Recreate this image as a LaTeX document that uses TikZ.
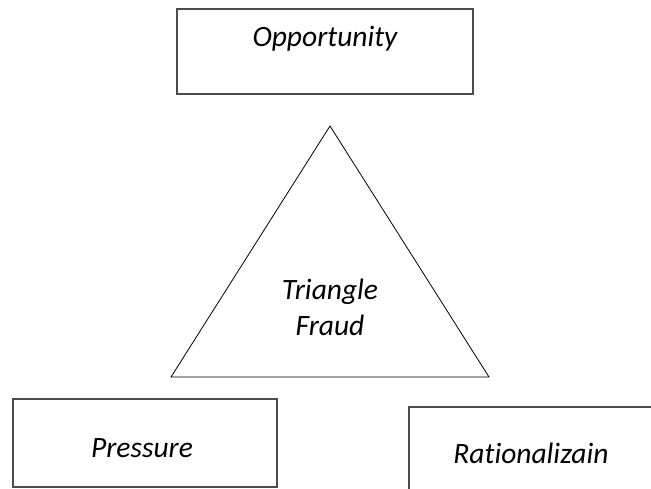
\documentclass[tikz,border=0pt]{standalone}
\usepackage{fontspec}
\setmainfont{Carlito}[Ligatures=NoCommon]
\begin{document}
\begin{tikzpicture}[x=1pt,y=-1pt,
  box/.style={draw=black!70, line width=1.1pt, inner sep=0pt},
  lbl/.style={font=\fontsize{29.5}{35}\selectfont\itshape, inner sep=0pt, anchor=base},
  tri/.style={draw=black, line width=0.8pt}]
\useasboundingbox (0,0) rectangle (651,489);
\clip (0,0) rectangle (651,489);
% boxes
\node[box, minimum width=296pt, minimum height=85pt] (opp) at (325,51.5) {};
\node[box, minimum width=264pt, minimum height=88pt] (pre) at (145,443) {};
\node[box, minimum width=260pt, minimum height=100pt] (rat) at (539,457) {};
% labels
\node[lbl] (opptext) at (325,47) {Opportunity};
\node[lbl] (pretext) at (142,457) {Pressure};
\node[lbl] (rattext) at (531,463) {Rationalizain};
% triangle
\coordinate (apex) at (330,126);
\coordinate (bl) at (171,377);
\coordinate (br) at (489,377);
\draw[tri] (apex) -- (br) -- (bl) -- cycle;
\node[lbl] (tri1) at (330,300) {Triangle};
\node[lbl] (tri2) at (330,335) {Fraud};
\end{tikzpicture}
\end{document}
